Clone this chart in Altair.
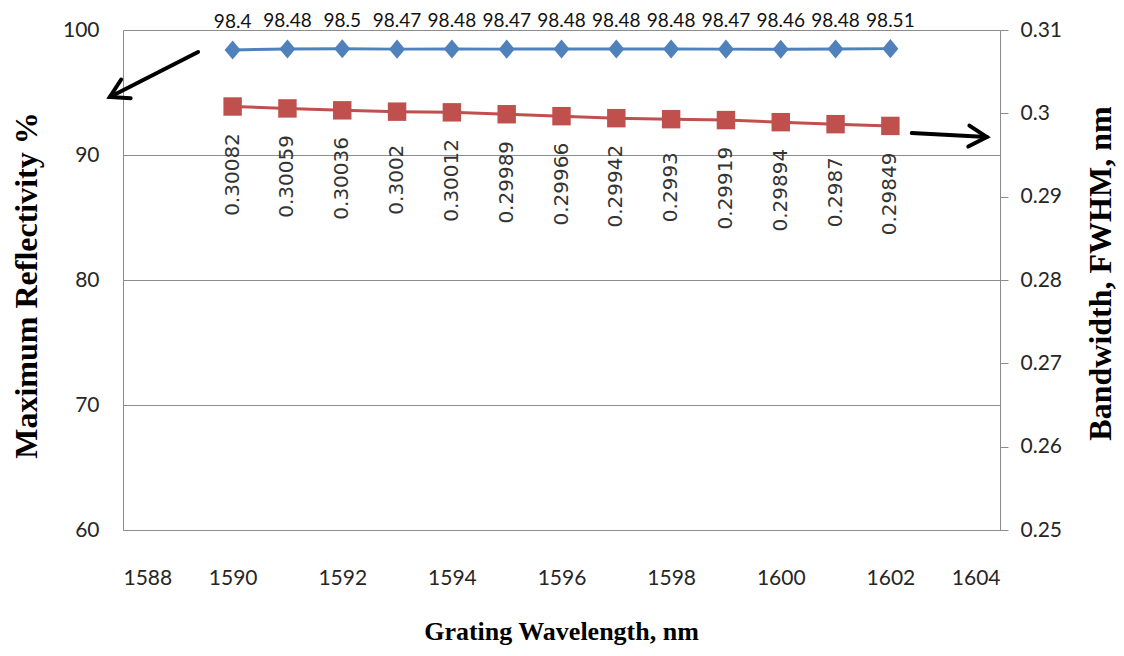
import altair as alt
import pandas as pd

# ---- data ----
wavelength = [1590, 1591, 1592, 1593, 1594, 1595, 1596, 1597, 1598, 1599, 1600, 1601, 1602]
reflectivity = [98.4, 98.48, 98.5, 98.47, 98.48, 98.47, 98.48, 98.48, 98.48, 98.47, 98.46, 98.48, 98.51]
refl_labels = ["98.4", "98.48", "98.5", "98.47", "98.48", "98.47", "98.48", "98.48",
               "98.48", "98.47", "98.46", "98.48", "98.51"]
bandwidth = [0.30082, 0.30059, 0.30036, 0.3002, 0.30012, 0.29989, 0.29966, 0.29942,
             0.2993, 0.29919, 0.29894, 0.2987, 0.29849]
bw_labels = ["0.30082", "0.30059", "0.30036", "0.3002", "0.30012", "0.29989", "0.29966",
             "0.29942", "0.2993", "0.29919", "0.29894", "0.2987", "0.29849"]

x_ticks = [1588, 1590, 1592, 1594, 1596, 1598, 1600, 1602, 1604]
refl_ticks = [60, 70, 80, 90, 100]
bw_ticks = [0.25, 0.26, 0.27, 0.28, 0.29, 0.30, 0.31]

# annotation arrows (tail -> head), in wavelength / reflectivity units
arrow_x = [1589.37, 1602.39]
arrow_y = [98.24, 91.76]
arrow_x2 = [1587.76, 1603.76]
arrow_y2 = [94.64, 91.44]
arrow_angle = [153, 3]

BLUE = "#4F81BD"
RED = "#C0504D"
GRID = "#8c8c8c"
LABEL = "#262626"
TICKFONT = "Lato"
TITLEFONT = "Liberation Serif"

xscale = alt.Scale(domain=[1588, 1604], nice=False, zero=False)
xaxis = alt.Axis(values=x_ticks, ticks=False, grid=False, domainColor=GRID, domainWidth=1,
                 labelFont=TICKFONT, labelFontSize=21, labelColor=LABEL,
                 labelBaseline="middle", labelPadding=48, format="d",
                 title="Grating Wavelength, nm", titleFont=TITLEFONT, titleFontSize=26,
                 titleFontWeight="bold", titleColor="black", titleBaseline="middle",
                 titleY=101, titleX=438)

yl_scale = alt.Scale(domain=[60, 100], nice=False, zero=False)
yl_axis = alt.Axis(values=refl_ticks, ticks=False, grid=True, gridColor=GRID, gridWidth=1,
                   domainColor=GRID, labelFont=TICKFONT, labelFontSize=21, labelColor=LABEL,
                   labelPadding=24, title="Maximum Reflectivity %", titleFont=TITLEFONT,
                   titleFontSize=32, titleFontWeight="bold", titleColor="black",
                   titleAngle=270, titleAlign="center", titleBaseline="middle",
                   titleX=-97, titleY=255)

yr_scale = alt.Scale(domain=[0.25, 0.31], nice=False, zero=False)
yr_axis = alt.Axis(orient="right", values=bw_ticks, ticks=True, tickSize=8, tickColor=GRID,
                   grid=False, domainColor=GRID, labelFont=TICKFONT, labelFontSize=21,
                   labelColor=LABEL, labelPadding=12, format=".2~f",
                   title="Bandwidth, FWHM, nm", titleFont=TITLEFONT, titleFontSize=32,
                   titleFontWeight="bold", titleColor="black", titleAngle=270,
                   titleAlign="center", titleBaseline="middle", titleX=100, titleY=243)

X = alt.X("wl:Q", scale=xscale, axis=xaxis)

df1 = pd.DataFrame({"wl": wavelength, "refl": reflectivity, "lab": refl_labels})
base1 = alt.Chart(df1).encode(x=X, y=alt.Y("refl:Q", scale=yl_scale, axis=yl_axis))
line1 = base1.mark_line(color=BLUE, strokeWidth=3)
pts1 = base1.mark_point(shape="M0,-1.2L1,0L0,1.2L-1,0Z", filled=True, size=256, color=BLUE,
                        opacity=1)
txt1 = base1.mark_text(dy=-28, fontSize=19, font=TICKFONT, color="#111111").encode(text="lab:N")

dfa = pd.DataFrame({"ax": arrow_x, "ay": arrow_y, "ax2": arrow_x2, "ay2": arrow_y2,
                    "ang": arrow_angle})
shafts = alt.Chart(dfa).mark_rule(color="black", strokeWidth=4, strokeCap="round").encode(
    x=alt.X("ax:Q", scale=xscale, axis=xaxis),
    y=alt.Y("ay:Q", scale=yl_scale, axis=yl_axis),
    x2="ax2:Q", y2="ay2:Q")
heads = alt.Chart(dfa).mark_point(shape="M-1,-0.58L0,0L-1,0.58", filled=False, strokeWidth=4,
                                  size=1300, color="black", opacity=1,
                                  strokeCap="round", strokeJoin="miter").encode(
    x=alt.X("ax2:Q", scale=xscale, axis=xaxis),
    y=alt.Y("ay2:Q", scale=yl_scale, axis=yl_axis),
    angle=alt.Angle("ang:Q", scale=None))

left = alt.layer(line1, pts1, txt1, shafts, heads)

df2 = pd.DataFrame({"wl": wavelength, "bw": bandwidth, "lab": bw_labels})
base2 = alt.Chart(df2).encode(x=X, y=alt.Y("bw:Q", scale=yr_scale, axis=yr_axis))
line2 = base2.mark_line(color=RED, strokeWidth=3)
pts2 = base2.mark_point(shape="square", filled=True, size=340, color=RED, opacity=1)
txt2 = base2.mark_text(angle=270, align="center", baseline="middle", dx=-68, fontSize=20,
                       font="DejaVu Sans", color="#333333").encode(text="lab:N")

right = alt.layer(line2, pts2, txt2)

chart = alt.layer(left, right).resolve_scale(y="independent").properties(
    width=877, height=500,
    padding={"left": 115, "top": 22, "right": 116, "bottom": 116},
    autosize=alt.AutoSizeParams(type="none"),
    background="white",
).configure_view(stroke=None)

chart.save("out.html", embed_options={"renderer": "svg", "actions": False})
